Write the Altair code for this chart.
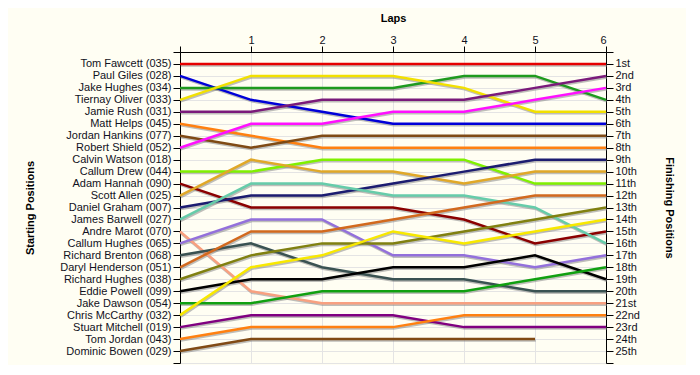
import json
import altair as alt
import pandas as pd

drivers = [
    "Tom Fawcett (035)", "Paul Giles (028)", "Jake Hughes (034)", "Tiernay Oliver (033)",
    "Jamie Rush (031)", "Matt Helps (045)", "Jordan Hankins (077)", "Robert Shield (052)",
    "Calvin Watson (018)", "Callum Drew (044)", "Adam Hannah (090)", "Scott Allen (025)",
    "Daniel Graham (007)", "James Barwell (027)", "Andre Marot (070)", "Callum Hughes (065)",
    "Richard Brenton (068)", "Daryl Henderson (051)", "Richard Hughes (038)", "Eddie Powell (099)",
    "Jake Dawson (054)", "Chris McCarthy (032)", "Stuart Mitchell (019)", "Tom Jordan (043)",
    "Dominic Bowen (029)",
]

finish_labels = [
    "1st", "2nd", "3rd", "4th", "5th", "6th", "7th", "8th", "9th", "10th", "11th", "12th",
    "13th", "14th", "15th", "16th", "17th", "18th", "19th", "20th", "21st", "22nd", "23rd",
    "24th", "25th",
]

laps = [0, 1, 2, 3, 4, 5, 6]
lap_labels = ["", "1", "2", "3", "4", "5", "6"]

# position of each driver at laps 0..6 (None = no data)
positions = [
    [1, 1, 1, 1, 1, 1, 1],
    [2, 4, 5, 6, 6, 6, 6],
    [3, 3, 3, 3, 2, 2, 4],
    [4, 2, 2, 2, 3, 5, 5],
    [5, 5, 4, 4, 4, 3, 2],
    [6, 7, 8, 8, 8, 8, 8],
    [7, 8, 7, 7, 7, 7, 7],
    [8, 6, 6, 5, 5, 4, 3],
    [None, None, None, None, None, None, None],
    [10, 10, 9, 9, 9, 11, 11],
    [11, 13, 13, 13, 14, 16, 15],
    [12, 9, 10, 10, 11, 10, 10],
    [13, 12, 12, 11, 10, 9, 9],
    [14, 11, 11, 12, 12, 13, 16],
    [15, 20, 21, 21, 21, 21, 21],
    [16, 14, 14, 17, 17, 18, 17],
    [17, 16, 18, 19, 19, 20, 20],
    [18, 15, 15, 14, 13, 12, 12],
    [19, 17, 16, 16, 15, 14, 13],
    [20, 19, 19, 18, 18, 17, 19],
    [21, 21, 20, 20, 20, 19, 18],
    [22, 18, 17, 15, 16, 15, 14],
    [23, 22, 22, 22, 23, 23, 23],
    [24, 23, 23, 23, 22, 22, 22],
    [25, 24, 24, 24, 24, 24, None],
]

colors = [
    "#E60000", "#0000D8", "#1E9A1E", "#F2E000", "#7A1A7A", "#FF8010", "#7F4A14", "#FF10FF",
    "#CCCCCC", "#80F000", "#8B0000", "#E0A828", "#1C1C70", "#66CCAA", "#F8A080", "#9370DB",
    "#3A5252", "#D2691E", "#808010", "#000000", "#10A010", "#F8E800", "#800080", "#FF8010",
    "#804A14",
]

rows = []
for d, plist in zip(drivers, positions):
    for lap, p in zip(laps, plist):
        if p is not None:
            rows.append({"driver": d, "lap": lap, "pos": p})
df = pd.DataFrame(rows)

left_labels = [""] + drivers + [""]
right_labels = [""] + finish_labels + [""]

FONT = "Liberation Sans"
TXT = "#111122"
GRID = "#E4E4E4"

x_axis = alt.Axis(
    orient="top", values=laps, labelExpr=json.dumps(lap_labels) + "[datum.value]",
    title="Laps", titleFontWeight="bold", titleFont=FONT, titleFontSize=11, titleColor="#000",
    titleX=213, titleY=-34, titleBaseline="middle",
    labelFont=FONT, labelFontSize=11, labelColor=TXT, labelPadding=1,
    tickSize=6, tickColor="#000", domainColor="#000", grid=True, gridColor=GRID,
)
x_enc = alt.X("lap:Q", axis=x_axis, scale=alt.Scale(domain=[0, 6], nice=False, zero=False))
y_scale = alt.Scale(domain=[0, 26], reverse=True, nice=False, zero=False)

left_axis = alt.Axis(
    orient="left", values=list(range(27)), labelExpr=json.dumps(left_labels) + "[datum.value]",
    title="Starting Positions", titleFontWeight="bold", titleFont=FONT, titleFontSize=11,
    titleColor="#000", titleAngle=-90, titleX=-150, titleY=155.5, titleBaseline="middle",
    titleAlign="center",
    labelFont=FONT, labelFontSize=11, labelColor=TXT, labelPadding=2,
    tickSize=7, tickColor="#000", domainColor="#000", grid=True, gridColor=GRID,
)
right_axis = alt.Axis(
    orient="right", values=list(range(27)), labelExpr=json.dumps(right_labels) + "[datum.value]",
    title="Finishing Positions", titleFontWeight="bold", titleFont=FONT, titleFontSize=11,
    titleColor="#000", titleAngle=90, titleX=62, titleY=155.5, titleBaseline="middle",
    titleAlign="center",
    labelFont=FONT, labelFontSize=11, labelColor=TXT, labelPadding=2,
    tickSize=7, tickColor="#000", domainColor="#000", grid=False,
)

base = alt.Chart(df)

shadow = base.mark_line(
    color="#888888", strokeWidth=2.5, opacity=0.55, xOffset=0.8, yOffset=1.5
).encode(
    x=x_enc,
    y=alt.Y("pos:Q", scale=y_scale, axis=left_axis),
    detail="driver:N",
    order="lap:Q",
)

main = base.mark_line(strokeWidth=2.5).encode(
    x=x_enc,
    y=alt.Y("pos:Q", scale=y_scale, axis=right_axis),
    color=alt.Color("driver:N", scale=alt.Scale(domain=drivers, range=colors), legend=None),
    order="lap:Q",
)

chart = alt.layer(shadow, main).resolve_axis(y="independent").properties(
    width=426, height=311,
    autosize=alt.AutoSizeParams(type="none"),
    padding={"left": 172, "top": 44, "right": 80, "bottom": 2},
    background="#FFFEF3",
).configure_view(stroke=None, fill="#FFFEF3")

chart.save("out.html", embed_options={"renderer": "svg", "actions": False})
